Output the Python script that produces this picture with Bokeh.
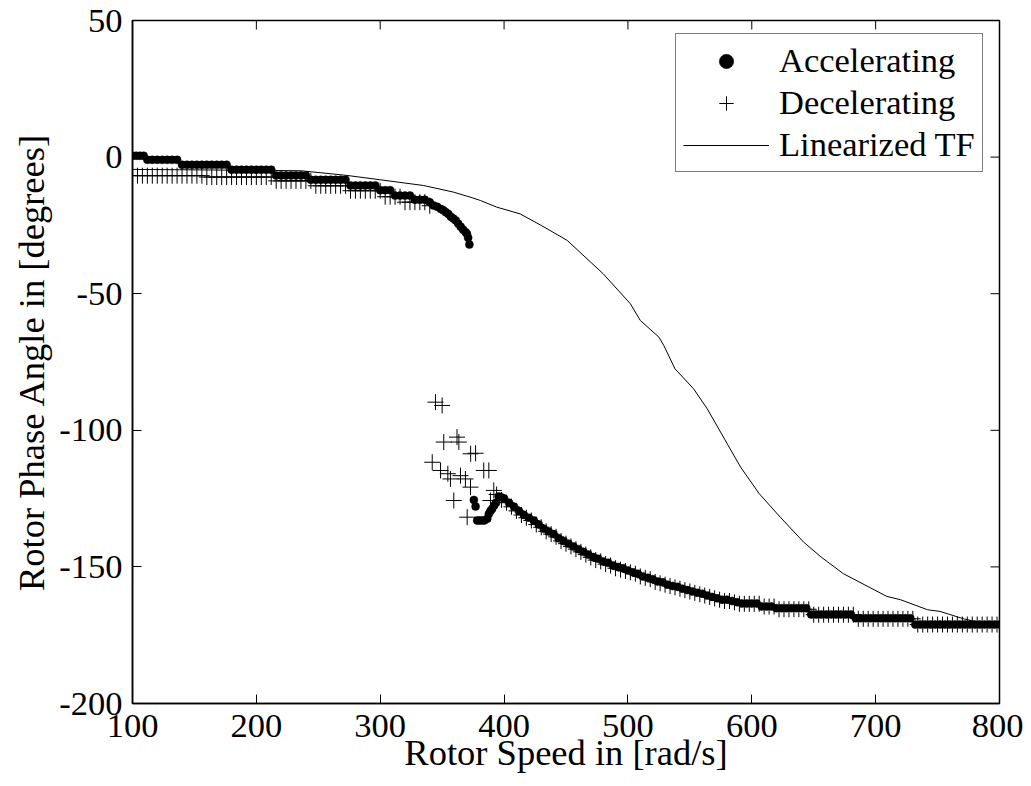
from bokeh.plotting import figure
from bokeh.models import FixedTicker, Range1d, Legend, LegendItem
from bokeh.embed import file_html
from bokeh.resources import INLINE

# ---------------- data ----------------
x_ticks = [100, 200, 300, 400, 500, 600, 700, 800]
y_ticks = [-200, -150, -100, -50, 0, 50]

# Accelerating run (dots)
acc_speed = [
    100, 103, 106, 109,
    112, 116, 120, 124, 128, 132, 136,
    140, 144, 148, 152, 156, 160, 164, 168, 172, 176,
    180, 184, 188, 192, 196, 200, 204, 208, 212,
    216, 220, 224, 228, 232, 236, 240,
    244, 248, 252, 256, 260, 264, 268, 272,
    276, 280, 284, 288, 292, 296,
    300, 304, 308,
    312, 316, 320, 324,
    328, 332, 336,
    340, 343, 346, 349, 351, 353, 355, 357, 359, 361, 363, 365, 367, 369, 370, 371, 372,
    375.6, 377, 378.3, 380, 382, 384, 386.4, 387.7, 389, 390.4, 392, 393.5, 395.7, 397.5,
    400, 404, 408, 412, 416, 420, 424, 428, 432, 436,
    440, 444, 448, 452, 456, 460, 464, 468, 472, 476,
    480, 484, 488, 492, 496, 500, 504, 508, 512, 516,
    520, 524, 528, 532, 536, 540, 544, 548, 552, 556,
    560, 564, 568, 572, 576, 580, 584, 588, 592, 596,
    600, 604, 608, 612, 616, 620, 624, 628, 632, 636,
    640, 644, 648, 652, 656, 660, 664, 668, 672, 676,
    680, 684, 688, 692, 696, 700, 704, 708, 712, 716,
    720, 724, 728, 732, 736, 740, 744, 748, 752, 756,
    760, 764, 768, 772, 776, 780, 784, 788, 792, 796,
    800,
]
acc_phase = [
    0.5, 0.5, 0.5, 0.5,
    -1.0, -1.0, -1.0, -1.0, -1.0, -1.0, -1.0,
    -2.8, -2.8, -2.8, -2.8, -2.8, -2.8, -2.8, -2.8, -2.8, -2.8,
    -4.6, -4.6, -4.6, -4.6, -4.6, -4.6, -4.6, -4.6, -4.6,
    -6.7, -6.7, -6.7, -6.7, -6.7, -6.7, -6.7,
    -8.3, -8.3, -8.3, -8.3, -8.3, -8.3, -8.3, -8.3,
    -10.4, -10.4, -10.4, -10.4, -10.4, -10.4,
    -12.1, -12.1, -12.1,
    -14.1, -14.1, -14.1, -14.1,
    -15.6, -15.6, -15.6,
    -16.5, -17.7, -18.2, -19.0, -19.5, -20.2, -20.8, -21.8, -22.5, -23.2, -24.4, -25.5, -26.6, -27.5, -28.1, -29.5, -32.0,
    -125.5, -127.9, -133.0, -133.0, -133.0, -133.0, -132.4, -130.6, -129.5, -128.7, -127.5, -126.5, -124.2, -124.5,
    -125.0, -126.5, -128.0, -129.5, -131.0, -132.0, -133.0, -134.5, -136.0, -137.0,
    -138.0, -139.5, -140.5, -141.5, -142.5, -143.5, -144.5, -145.5, -146.4, -147.0,
    -148.0, -148.5, -149.5, -150.0, -150.5, -151.3, -152.0, -152.5, -153.5, -154.0,
    -154.5, -155.3, -155.6, -156.5, -157.0, -157.3, -158.0, -158.5, -159.0, -159.5,
    -159.8, -160.5, -161.0, -161.5, -162.0, -162.0, -162.5, -162.9, -163.4, -163.4,
    -163.4, -163.4, -164.5, -164.5, -164.5, -165.1, -165.1, -165.1, -165.1, -165.1,
    -165.1, -165.1, -167.4, -167.4, -167.4, -167.4, -167.4, -167.4, -167.4, -167.4,
    -167.4, -168.8, -168.8, -168.8, -168.8, -168.8, -168.8, -168.8, -168.8, -168.8,
    -168.8, -168.8, -168.8, -171.1, -171.1, -171.1, -171.1, -171.1, -171.1, -171.1,
    -171.1, -171.1, -171.1, -171.1, -171.1, -171.1, -171.1, -171.1, -171.1, -171.1,
    -171.1,
]

# Decelerating run (plus markers)
dec_speed = [
    100, 104, 108, 112, 116, 120, 124, 128, 132, 136,
    140, 144, 148, 152, 156, 160, 164, 168, 172, 176,
    180, 184, 188, 192, 196, 200, 204, 208, 212,
    216, 220, 224, 228, 232, 236, 240, 244,
    248, 252, 256, 260, 264, 268, 272,
    276, 280, 284, 288, 292, 296, 300,
    304, 308, 312, 316,
    320, 324, 328, 332, 336,
    340,
    344.6, 350, 342, 348.7, 351.3, 354.6, 356.7, 359.4, 362, 363.5,
    364.8, 368.8, 370.2, 372.9, 373, 377, 383.6, 387.7, 389, 391.7,
    394, 398, 402, 406, 410, 414, 418, 422, 426, 430,
    434, 438, 442, 446, 450, 454, 458, 462, 466, 470,
    474, 478, 482, 486, 490, 494, 498, 502, 506, 510,
    514, 518, 522, 526, 530, 534, 538, 542, 546, 550,
    554, 558, 562, 566, 570, 574, 578, 582, 586, 590,
    594, 598, 602, 606,
    610, 614, 618,
    622, 626, 630, 634, 638, 642, 646,
    650, 654, 658, 662, 666, 670, 674, 678, 682,
    686, 690, 694, 698, 702, 706, 710, 714, 718, 722, 726, 730,
    734, 738, 742, 746, 750, 754, 758, 762, 766, 770, 774, 778, 782, 786, 790, 794, 798,
    800,
]
dec_phase = [
    -6.8, -6.8, -6.8, -6.8, -6.8, -6.8, -6.8, -6.8, -6.8, -6.8,
    -6.8, -6.8, -6.8, -6.8, -6.8, -7.3, -7.3, -7.3, -7.3, -7.3,
    -7.3, -7.3, -7.3, -7.3, -7.3, -7.3, -7.3, -7.3, -7.3,
    -8.7, -8.7, -8.7, -8.7, -8.7, -8.7, -8.7, -8.7,
    -10.5, -10.5, -10.5, -10.5, -10.5, -10.5, -10.5,
    -12.3, -12.3, -12.3, -12.3, -12.3, -12.3, -12.3,
    -14.5, -14.5, -14.5, -14.5,
    -16.5, -16.5, -16.5, -16.5, -16.5,
    -17.8,
    -89.7, -90.9, -111.7, -114.7, -104.3, -115.9, -117.8, -125.7, -102.5, -104.3,
    -116.6, -117.8, -131.8, -120.8, -108.6, -108.4, -114.7, -114.7, -125.7, -122.0,
    -123.5, -125.5, -126.5, -128.0, -129.5, -131.0, -132.0, -133.0, -134.5, -135.5,
    -137.0, -138.0, -139.0, -140.5, -141.5, -142.5, -143.5, -144.5, -145.5, -146.5,
    -147.5, -148.0, -149.0, -149.5, -150.5, -151.0, -151.5, -152.0, -152.5, -153.5,
    -154.0, -154.5, -155.5, -156.0, -156.5, -157.0, -157.5, -158.0, -158.5, -159.0,
    -159.5, -160.0, -160.5, -161.0, -161.5, -162.0, -162.5, -162.5, -163.0, -163.5,
    -163.5, -163.5, -163.5, -163.5,
    -164.5, -164.5, -164.5,
    -165.5, -165.5, -165.5, -165.5, -165.5, -165.5, -165.5,
    -167.5, -167.5, -167.5, -167.5, -167.5, -167.5, -167.5, -167.5, -167.5,
    -169.0, -169.0, -169.0, -169.0, -169.0, -169.0, -169.0, -169.0, -169.0, -169.0, -169.0, -169.0,
    -171.1, -171.1, -171.1, -171.1, -171.1, -171.1, -171.1, -171.1, -171.1, -171.1, -171.1, -171.1, -171.1, -171.1, -171.1, -171.1, -171.1,
    -171.5,
]

# Linearized transfer function (line)
tf_speed = [100, 160, 236, 273, 300, 335, 359, 373, 381, 394, 413, 430, 451, 480, 502,
            510, 525, 529, 538, 553, 564, 591, 606, 623, 642, 656, 674, 709, 720,
            742, 752, 771, 800]
tf_phase = [-4.5, -4.7, -5.0, -6.7, -8.3, -10.4, -12.8, -14.7, -15.9, -18.3, -20.8, -25.0,
            -30.5, -42.7, -53.7, -59.8, -65.9, -69.0, -77.5, -84.8, -92.1, -113.5, -123.2,
            -131.8, -141.0, -146.4, -152.5, -160.8, -162.0, -165.7, -166.3, -169.0, -172.0]

# ---------------- figure ----------------
FONT = "Liberation Serif"
X_MIN, X_MAX = 100, 800
Y_MIN, Y_MAX = -200, 50
FRAME_W, FRAME_H = 867, 683
TICK_PX = 9

p = figure(width=1023, height=780,
           x_range=Range1d(X_MIN, X_MAX), y_range=Range1d(Y_MIN, Y_MAX),
           output_backend="svg", toolbar_location=None,
           min_border_left=132, min_border_right=24,
           min_border_top=20, min_border_bottom=77)
p.grid.visible = False
p.outline_line_color = "black"
p.outline_line_width = 1.5
p.background_fill_color = "white"
p.border_fill_color = "white"


def style_axis(ax, ticks):
    ax.ticker = FixedTicker(ticks=ticks)
    ax.major_tick_in = TICK_PX
    ax.major_tick_out = 0
    ax.minor_tick_in = 0
    ax.minor_tick_out = 0
    ax.axis_line_color = "black"
    ax.axis_line_width = 1.5
    ax.major_tick_line_color = "black"
    ax.major_tick_line_width = 1
    ax.major_label_text_font = FONT
    ax.major_label_text_color = "black"
    ax.major_label_text_font_size = "34.5px"
    ax.major_label_overrides = {t: str(t) for t in ticks}
    ax.axis_label_text_font = FONT
    ax.axis_label_text_font_style = "normal"
    ax.axis_label_text_color = "black"
    ax.axis_label_text_font_size = "36.5px"


xa = p.xaxis[0]
ya = p.yaxis[0]
style_axis(xa, x_ticks)
style_axis(ya, y_ticks)
xa.axis_label = "Rotor Speed in [rad/s]"
ya.axis_label = "Rotor Phase Angle in [degrees]"
xa.major_label_standoff = 11
xa.axis_label_standoff = -8
ya.major_label_standoff = 10
ya.axis_label_standoff = 4

# inward tick marks on the top and right edges of the box (MATLAB "box on")
dy_tick = TICK_PX * (Y_MAX - Y_MIN) / FRAME_H
dx_tick = TICK_PX * (X_MAX - X_MIN) / FRAME_W
p.segment(x0=x_ticks, y0=[Y_MAX] * len(x_ticks), x1=x_ticks,
          y1=[Y_MAX - dy_tick] * len(x_ticks), line_color="black", line_width=1)
p.segment(x0=[X_MAX] * len(y_ticks), y0=y_ticks, x1=[X_MAX - dx_tick] * len(y_ticks),
          y1=y_ticks, line_color="black", line_width=1)

r_tf = p.line(tf_speed, tf_phase, line_color="black", line_width=1)
r_dec = p.scatter(dec_speed, dec_phase, marker="cross", size=16,
                  line_color="black", line_width=1)
r_acc = p.scatter(acc_speed, acc_phase, marker="circle", size=8,
                  fill_color="black", line_color="black", line_width=0.5)

legend = Legend(items=[
    LegendItem(label="Accelerating", renderers=[r_acc]),
    LegendItem(label="Decelerating", renderers=[r_dec]),
    LegendItem(label="Linearized TF", renderers=[r_tf]),
], location=(543, 531))
legend.label_text_font = FONT
legend.label_text_font_size = "34.5px"
legend.label_text_color = "black"
legend.glyph_width = 86
legend.glyph_height = 36
legend.label_height = 36
legend.label_standoff = 10
legend.spacing = 3
legend.padding = 7
legend.margin = 0
legend.border_line_color = "black"
legend.border_line_width = 1.5
legend.background_fill_color = "white"
legend.background_fill_alpha = 1.0
p.add_layout(legend)

open("out.html", "w").write(file_html(p, INLINE))
